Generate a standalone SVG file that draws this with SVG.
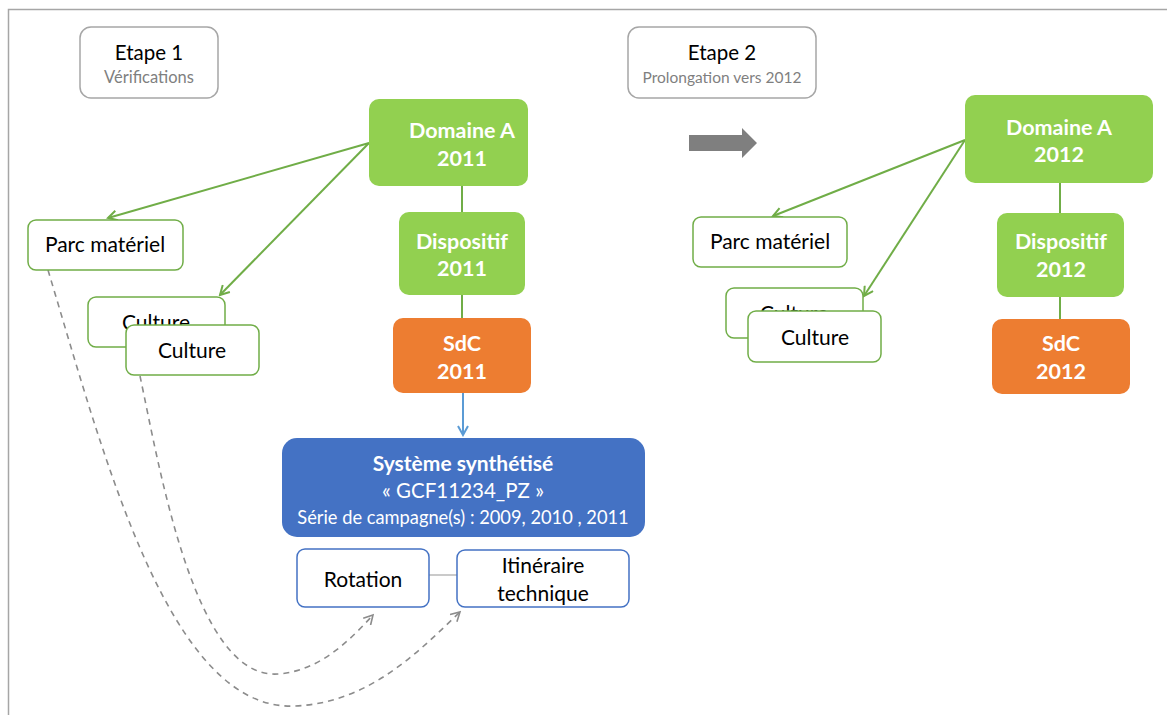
<svg xmlns="http://www.w3.org/2000/svg" width="1167" height="715" viewBox="0 0 1167 715">
<style>
text{font-family:Lato,"Liberation Sans",sans-serif;text-anchor:middle}
.step{fill:#fff;stroke:#a6a6a6;stroke-width:1.5}
.green{fill:#92d050}
.orange{fill:#ed7d31}
.wb{fill:#fff;stroke:#70ad47;stroke-width:1.5}
.bb{fill:#fff;stroke:#4472c4;stroke-width:1.5}
.lbl{font-size:21px;fill:#000}
.big{font-size:21.5px;font-weight:bold;fill:#fff}
.sub{font-size:16.5px;fill:#7f7f7f}
.gl{stroke:#70ad47;stroke-width:2;fill:none}
.dash{stroke:#8c8c8c;stroke-width:1.6;fill:none;stroke-dasharray:6 5}
</style>
<defs>
<marker id="ag" viewBox="0 0 12 12" refX="10" refY="6" markerWidth="12" markerHeight="12" markerUnits="userSpaceOnUse" orient="auto"><path d="M1,1 L10,6 L1,11" fill="none" stroke="#70ad47" stroke-width="2"/></marker>
<marker id="ab" viewBox="0 0 12 12" refX="10" refY="6" markerWidth="12" markerHeight="12" markerUnits="userSpaceOnUse" orient="auto"><path d="M1,1 L10,6 L1,11" fill="none" stroke="#5b9bd5" stroke-width="2"/></marker>
<marker id="ad" viewBox="0 0 12 12" refX="10" refY="6" markerWidth="12" markerHeight="12" markerUnits="userSpaceOnUse" orient="auto"><path d="M1,1 L10,6 L1,11" fill="none" stroke="#8c8c8c" stroke-width="1.6"/></marker>
</defs>
<rect width="1167" height="715" fill="#fff"/>
<path d="M8.5,715 V9.5 H1167" fill="none" stroke="#a6a6a6" stroke-width="1.5"/>

<g id="connectors">
<path class="gl" d="M369,143 L108,218" marker-end="url(#ag)"/>
<path class="gl" d="M369,143 L220,295" marker-end="url(#ag)"/>
<path class="gl" d="M462,186 V212 M462,295 V318"/>
<path d="M463,393 V435" stroke="#5b9bd5" stroke-width="2" fill="none" marker-end="url(#ab)"/>
<path d="M429,575 H457" stroke="#a6a6a6" stroke-width="1.2"/>
<path class="dash" d="M48,270 C105,460 170,712 295,706 C370,703 420,650 460,612" marker-end="url(#ad)"/>
<path class="dash" d="M140,376 C160,470 195,680 278,674 C320,671 350,640 373,615" marker-end="url(#ad)"/>
<path class="gl" d="M965,140 L773,216" marker-end="url(#ag)"/>
<path class="gl" d="M965,140 L864,296" marker-end="url(#ag)"/>
<path class="gl" d="M1060,183 V213 M1060,297 V319"/>
<path d="M689,135 H742 V128 L757,143 L742,158 V151 H689 Z" fill="#7f7f7f"/>
</g>

<g id="etape1"><rect class="step" x="80" y="27" width="138" height="71" rx="11"/>
<text x="149" y="60" style="font-size:20.5px" fill="#000">Etape 1</text>
<text x="149" y="83" class="sub">Vérifications</text></g>

<g id="etape2"><rect class="step" x="628" y="27" width="188" height="71" rx="11"/>
<text x="722" y="60" style="font-size:20.5px" fill="#000">Etape 2</text>
<text x="722" y="83" class="sub" style="font-size:15.5px">Prolongation vers 2012</text></g>

<g id="domaine2011"><rect class="green" x="369" y="99" width="159" height="87" rx="10"/>
<text x="462" y="138" class="big">Domaine A</text><text x="462" y="166" class="big">2011</text></g>
<g id="dispositif2011"><rect class="green" x="399" y="212" width="126" height="83" rx="10"/>
<text x="462" y="249" class="big">Dispositif</text><text x="462" y="276" class="big">2011</text></g>
<g id="sdc2011"><rect class="orange" x="393" y="318" width="138" height="75" rx="10"/>
<text x="462" y="351" class="big">SdC</text><text x="462" y="379" class="big">2011</text></g>

<g id="parc1"><rect class="wb" x="28" y="220" width="155" height="50" rx="8"/>
<text x="105" y="252" class="lbl">Parc matériel</text></g>
<g id="culture1a"><rect class="wb" x="88" y="297" width="137" height="50" rx="8"/>
<text x="156" y="330" class="lbl">Culture</text></g>
<g id="culture1b"><rect class="wb" x="126" y="325" width="133" height="50" rx="8"/>
<text x="192" y="358" class="lbl">Culture</text></g>

<g id="systeme"><rect x="282" y="438" width="363" height="99" rx="15" fill="#4472c4"/>
<text x="463" y="471" style="font-size:21px;font-weight:bold" fill="#fff">Système synthétisé</text>
<text x="463" y="498" style="font-size:20.5px" fill="#fff">« GCF11234_PZ »</text>
<text x="463" y="524" style="font-size:18.3px" fill="#fff">Série de campagne(s) : 2009, 2010 , 2011</text></g>

<g id="rotation"><rect class="bb" x="297" y="549" width="132" height="58" rx="8"/>
<text x="363" y="587" class="lbl">Rotation</text></g>
<g id="itineraire"><rect class="bb" x="457" y="550" width="172" height="57" rx="8"/>
<text x="543" y="573" class="lbl">Itinéraire</text><text x="543" y="601" class="lbl">technique</text></g>

<g id="domaine2012"><rect class="green" x="965" y="95" width="188" height="88" rx="10"/>
<text x="1059" y="135" class="big">Domaine A</text><text x="1059" y="162" class="big">2012</text></g>
<g id="dispositif2012"><rect class="green" x="997" y="213" width="127" height="84" rx="10"/>
<text x="1061" y="249" class="big">Dispositif</text><text x="1061" y="277" class="big">2012</text></g>
<g id="sdc2012"><rect class="orange" x="992" y="319" width="138" height="75" rx="10"/>
<text x="1061" y="351" class="big">SdC</text><text x="1061" y="379" class="big">2012</text></g>

<g id="parc2"><rect class="wb" x="693" y="217" width="154" height="50" rx="8"/>
<text x="770" y="249" class="lbl">Parc matériel</text></g>
<g id="culture2a"><rect class="wb" x="726" y="288" width="137" height="50" rx="8"/>
<text x="794" y="321" class="lbl">Culture</text></g>
<g id="culture2b"><rect class="wb" x="748" y="311" width="133" height="51" rx="8"/>
<text x="815" y="345" class="lbl">Culture</text></g>
</svg>
